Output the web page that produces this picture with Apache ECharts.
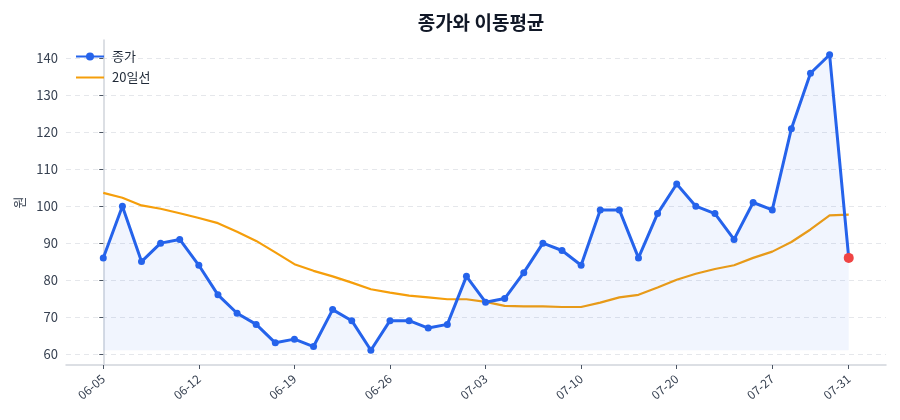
<!DOCTYPE html>
<html><head><meta charset="utf-8">
<script src="https://cdn.jsdelivr.net/npm/echarts@6/dist/echarts.min.js"></script>
<style>html,body{margin:0;padding:0;background:#fff}#c{width:900px;height:420px}</style>
</head><body><div id="c"></div>
<script>
const dates = ["06-05","06-06","06-07","06-08","06-09","06-12","06-13","06-14","06-15","06-16",
"06-19","06-20","06-21","06-22","06-23","06-26","06-27","06-28","06-29","06-30",
"07-03","07-04","07-05","07-06","07-07","07-10","07-12","07-14","07-17","07-18",
"07-20","07-21","07-24","07-25","07-26","07-27","07-28","07-29","07-30","07-31"];
const close = [86,100,85,90,91,84,76,71,68,63,64,62,72,69,61,69,69,67,68,81,74,75,82,90,88,84,99,99,86,98,106,100,98,91,101,99,121,136,141,86];
const ma20 = [103.6,102.3,100.2,99.3,98.1,96.8,95.4,93.1,90.6,87.5,84.3,82.5,81.0,79.3,77.5,76.6,75.8,75.3,74.8,74.8,74.1,73.0,72.9,72.9,72.7,72.7,73.9,75.3,76.0,78.0,80.1,81.7,83.0,84.0,86.0,87.7,90.3,93.7,97.5,97.7];
const xTickIdx = [0,5,10,15,20,25,30,35,39];
const yTicks = [60,70,80,90,100,110,120,130,140];

const FONT = '"Noto Sans CJK KR","Noto Sans",sans-serif';
const n = close.length;
const cMin = Math.min(...close), cMax = Math.max(...close);
const yPad = (cMax - cMin) * 0.05;
const xPad = (n - 1) * 0.05;
const last = n - 1;

const closeData = close.map((v, i) => i === last
  ? { value: [i, v], symbolSize: 10, itemStyle: { color: '#ef4444' } }
  : [i, v]);
const maData = ma20.map((v, i) => [i, v]);

const chart = echarts.init(document.getElementById('c'));
chart.setOption({
  animation: false,
  textStyle: { fontFamily: FONT },
  title: {
    text: '종가와 이동평균', left: 476, top: 8, textAlign: 'center',
    textStyle: { fontSize: 19, fontWeight: 'bold', color: '#111827', fontFamily: FONT }
  },
  legend: {
    orient: 'vertical', left: 75, top: 50, padding: 0, itemWidth: 28, itemHeight: 10, itemGap: 8,
    textStyle: { fontSize: 13, color: '#1f2937', fontFamily: FONT, padding: [0, 0, 0, 3] },
    data: [{ name: '종가' }, { name: '20일선', itemStyle: { opacity: 0 } }]
  },
  grid: { left: 66, right: 14, top: 40, bottom: 55 },
  xAxis: {
    type: 'value', min: -xPad, max: last + xPad,
    axisLine: { lineStyle: { color: '#d1d5db', width: 1.5 } },
    axisTick: { show: true, customValues: xTickIdx, length: 4, lineStyle: { color: '#4b5563' } },
    axisLabel: {
      customValues: xTickIdx, rotate: 40, fontSize: 12, color: '#374151', margin: 12,
      formatter: v => dates[Math.round(v)] || ''
    },
    splitLine: { show: false }
  },
  yAxis: {
    type: 'value', min: cMin - yPad, max: cMax + yPad,
    name: '원', nameLocation: 'middle', nameGap: 39, nameRotate: 90,
    nameTextStyle: { fontSize: 13, color: '#374151' },
    axisLine: { show: true, lineStyle: { color: '#d1d5db', width: 1.5 } },
    axisTick: { show: true, customValues: yTicks, length: 4, lineStyle: { color: '#4b5563' } },
    axisLabel: { customValues: yTicks, fontSize: 13, color: '#374151', margin: 8 },
    splitLine: { show: true, lineStyle: { color: '#e5e7eb', type: [5, 4], width: 1 } }
  },
  series: [
    {
      name: '20일선', type: 'line', data: maData, showSymbol: false, symbol: 'none',
      lineStyle: { color: '#f59e0b', width: 2.2 }, itemStyle: { color: '#f59e0b' }, z: 3
    },
    {
      name: '종가', type: 'line', data: closeData, symbol: 'circle', symbolSize: 7,
      lineStyle: { color: '#2563eb', width: 3 }, itemStyle: { color: '#2563eb' },
      areaStyle: { origin: cMin, color: 'rgba(37,99,235,0.09)' }, z: 4
    }
  ]
});
</script></body></html>
